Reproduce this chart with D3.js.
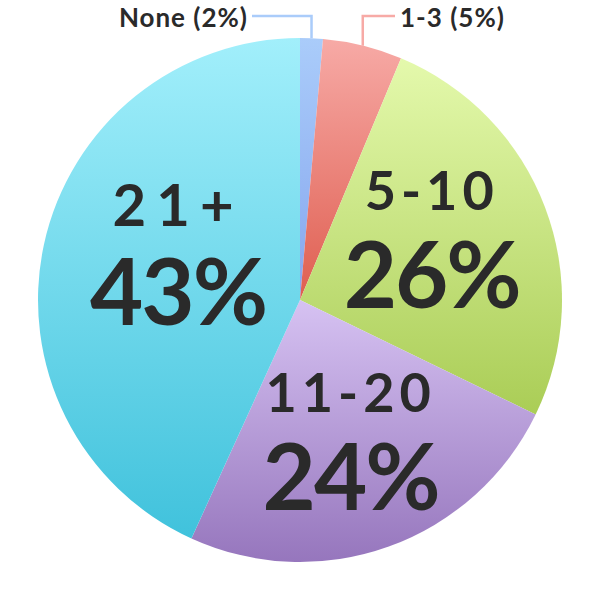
<!DOCTYPE html>
<html><head><meta charset="utf-8">
<script src="https://cdn.jsdelivr.net/npm/d3@7"></script>
<style>html,body{margin:0;padding:0;background:#fff;}svg{display:block;}</style>
</head><body>
<script>
const categories = ["None", "1-3", "5-10", "11-20", "21+"];
const sliceValues = [1.4, 4.9, 25.9, 24.6, 43.2];
const percentLabels = ["2%", "5%", "26%", "24%", "43%"];
const topColors = ["#aaccfa", "#f7aaa6", "#e4f9ac", "#d6c2f2", "#a2effb"];
const bottomColors = ["#86a6ee", "#df5e50", "#aacd56", "#9676bd", "#40c2dc"];

const W = 600, H = 600, cx = 300, cy = 300, R = 262;
const svg = d3.select("body").append("svg").attr("width", W).attr("height", H);
const defs = svg.append("defs");
categories.forEach((c, i) => {
  const g = defs.append("linearGradient").attr("id", "g" + i)
    .attr("x1", 0).attr("y1", 0).attr("x2", 0).attr("y2", 1);
  g.append("stop").attr("offset", "0%").attr("stop-color", topColors[i]);
  g.append("stop").attr("offset", "100%").attr("stop-color", bottomColors[i]);
});

const pie = d3.pie().sort(null).value(d => d)(sliceValues);
const arc = d3.arc().innerRadius(0).outerRadius(R);
const root = svg.append("g").attr("transform", `translate(${cx},${cy})`);
root.selectAll("path.slice").data(pie).join("path").attr("class", "slice")
  .attr("d", arc).attr("fill", (d, i) => `url(#g${i})`);

const font = "Lato, 'Open Sans', sans-serif";
const labelArc = d3.arc().innerRadius(R * 0.57).outerRadius(R * 0.57);
const adjust = {2: [-8, -8], 3: [0, 0], 4: [24, -14]};
[2, 3, 4].forEach(i => {
  const [x0, y0] = labelArc.centroid(pie[i]);
  const x = x0 + adjust[i][0], y = y0 + adjust[i][1];
  const big = i === 4;
  root.append("text").attr("x", x).attr("y", y - (big ? 28 : 29))
    .attr("text-anchor", "middle").attr("font-family", font)
    .attr("font-weight", 700).attr("font-size", big ? 58 : 54)
    .attr("letter-spacing", big ? 10 : 5).attr("fill", "#2a2a2a")
    .text(categories[i]);
  root.append("text").attr("x", x).attr("y", y + (big ? 71 : 69))
    .attr("text-anchor", "middle").attr("font-family", font)
    .attr("font-weight", 700).attr("font-size", 92)
    .attr("letter-spacing", -2).attr("fill", "#2a2a2a")
    .text(percentLabels[i]);
});

function leader(i, lineEndX, textX, anchor) {
  const a = pie[i];
  const mid = (a.startAngle + a.endAngle) / 2;
  const px = R * Math.sin(mid), py = -R * Math.cos(mid);
  const ly = -284;
  root.append("path")
    .attr("d", `M${px},${py}V${ly}H${lineEndX}`)
    .attr("fill", "none").attr("stroke", topColors[i]).attr("stroke-width", 2.5);
  root.append("text").attr("x", textX).attr("y", ly + 11)
    .attr("text-anchor", anchor).attr("font-family", font)
    .attr("font-weight", 700).attr("font-size", 26)
    .attr("letter-spacing", 1).attr("fill", "#2a2a2a")
    .text(`${categories[i]} (${percentLabels[i]})`);
}
leader(0, -48, -52, "end");
leader(1, 95, 100, "start");
</script>
</body></html>
